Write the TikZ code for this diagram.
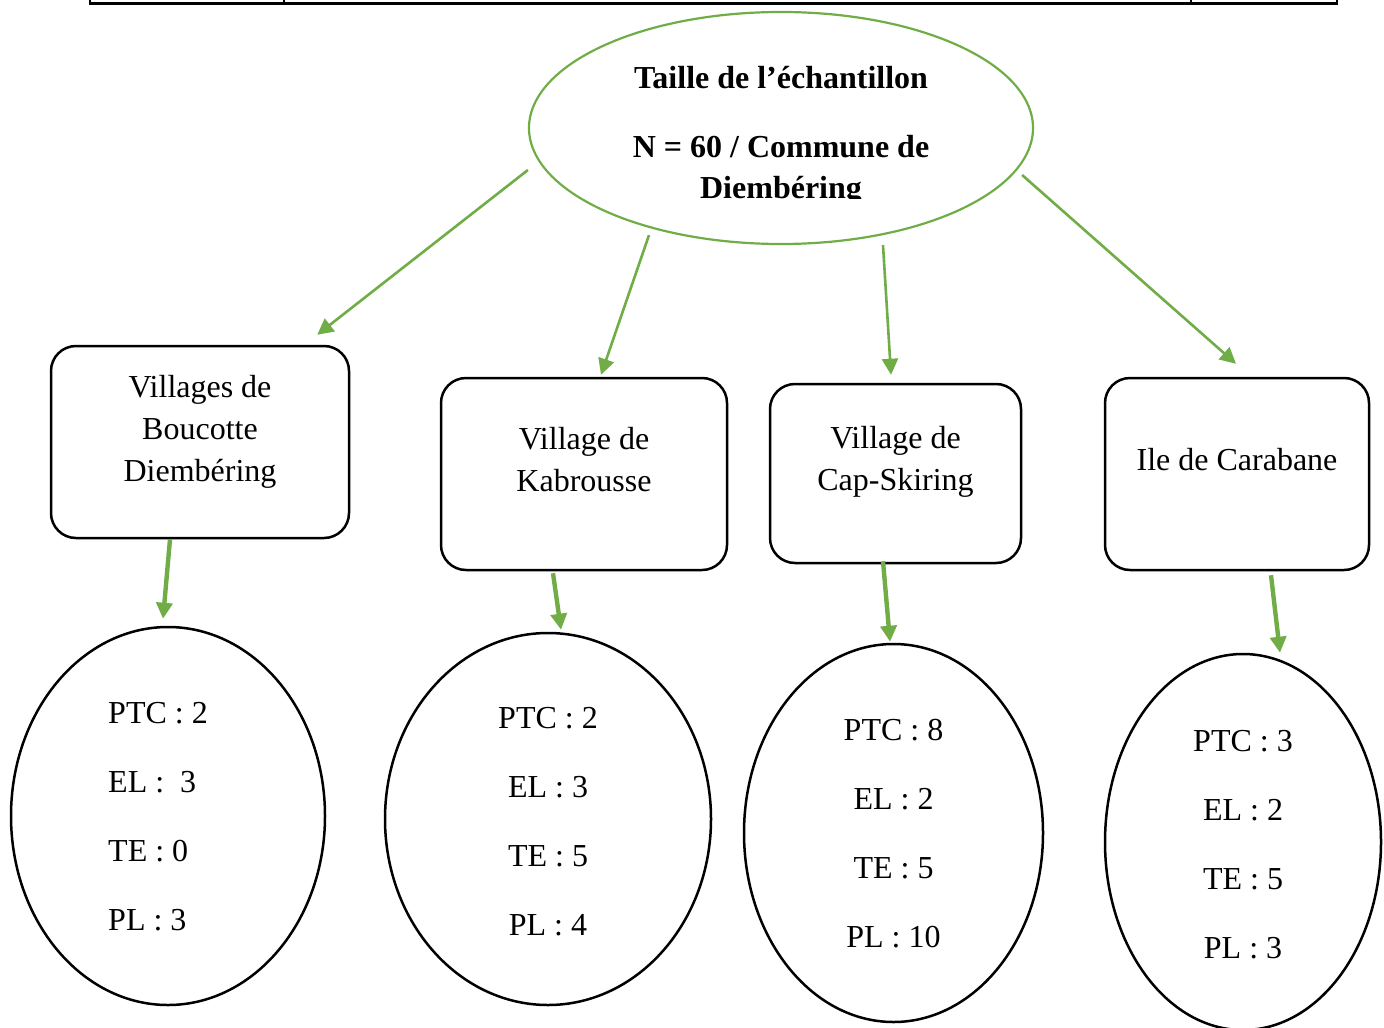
\documentclass[tikz,border=0pt]{standalone}
\usepackage{fontspec}
\setmainfont{Liberation Serif}
\usetikzlibrary{shapes.geometric,arrows.meta,calc}
\definecolor{leafgreen}{RGB}{112,173,71}

\begin{document}
\begin{tikzpicture}[x=0.5pt,y=-0.5pt,
	site/.style={draw,line width=1.25pt,rounded corners=12.5pt,inner sep=0pt},
	tally/.style={draw,ellipse,line width=1.25pt,inner sep=0pt},
	txt/.style={inner sep=0pt,align=center,font=\fontsize{16}{21}\selectfont},
	counts/.style={inner sep=0pt,align=center,font=\fontsize{16}{34.5}\selectfont},
	link/.style={line width=1.3pt,color=leafgreen,-{Triangle[length=8pt,width=8pt]}},
	drop/.style={link,line width=2.2pt}]
		\useasboundingbox (0,0) rectangle (1384,1027);
%		\draw[lightgray] (0,0) grid[step=100] (1384,1027);
		% bottom of the table above
		\draw[line width=1.2pt] (90,0) -- (90,3.5) -- (1337,3.5) -- (1337,0);
		\draw[line width=1.2pt] (284,0) -- (284,3.5) (1191,0) -- (1191,3.5);
		% sample
		\node[draw=leafgreen,line width=1.1pt,ellipse,minimum width=252pt,minimum height=116pt,inner sep=0pt] (sample) at (781,128) {};
		\begin{scope}
			\clip (529,0) rectangle (1033,199);
			\node[txt,font=\fontsize{16}{20.5}\selectfont\bfseries,anchor=north] (sampletxt) at (781,66) {Taille de l’échantillon\\[14pt]N = 60 / Commune de\\Diembéring};
		\end{scope}
		% villages
		\node[site,minimum width=149pt,minimum height=96pt] (boucotte) at (200,442) {};
		\node[site,minimum width=143pt,minimum height=96pt] (kabrousse) at (584,474) {};
		\node[site,minimum width=125.5pt,minimum height=89.5pt] (cap) at (895.5,473.5) {};
		\node[site,minimum width=132pt,minimum height=96pt] (carabane) at (1237,474) {};
		\node[txt] (boucottetxt) at ($(boucotte)+(0,-10.5)$) {Villages de\\Boucotte\\Diembéring};
		\node[txt] (kabroussetxt) at ($(kabrousse)+(0,-14)$) {Village de\\Kabrousse};
		\node[txt] (captxt) at ($(cap)+(0,-11.5)$) {Village de\\Cap-Skiring};
		\node[txt] (carabanetxt) at ($(carabane)+(0,-14)$) {Ile de Carabane};
		% counts
		\node[tally,minimum width=157pt,minimum height=189pt] (boucottenb) at (168,816) {};
		\node[tally,minimum width=163pt,minimum height=186pt] (kabroussenb) at (548,819) {};
		\node[tally,minimum width=149.5pt,minimum height=189pt] (capnb) at (893.5,833) {};
		\node[tally,minimum width=138pt,minimum height=188pt] (carabanenb) at (1243,842) {};
		\node[counts,align=left] (boucottenbtxt) at ($(boucottenb)+(-10,0.5)$) {PTC : 2\\EL :\ \ 3\\TE : 0\\PL : 3};
		\node[counts] (kabroussenbtxt) at ($(kabroussenb)+(0,2.5)$) {PTC : 2\\EL : 3\\TE : 5\\PL : 4};
		\node[counts] (capnbtxt) at ($(capnb)+(0,1)$) {PTC : 8\\EL : 2\\TE : 5\\PL : 10};
		\node[counts] (carabanenbtxt) at ($(carabanenb)+(0,3)$) {PTC : 3\\EL : 2\\TE : 5\\PL : 3};
		% arrows
		\draw[link] ($(sample.west)+(0,42)$) -- ($(boucotte.north east)+(-33,-10)$);
		\draw[link] ($(sample.south)+(-132,-10)$) -- ($(kabrousse.north)+(17,-2)$);
		\draw[link] ($(sample.south)+(102,0)$) -- ($(cap.north)+(-4.5,-8)$);
		\draw[link] ($(sample.east)+(-12,47)$) -- ($(carabane.north)+(-1,-13)$);
		\draw[drop] ($(boucotte.south)+(-30,0)$) -- ($(boucottenb.north)+(-5,-7)$);
		\draw[drop] ($(kabrousse.south)+(-31,2)$) -- ($(kabroussenb.north)+(13,-2)$);
		\draw[drop] ($(cap.south)+(-12.5,-3)$) -- ($(capnb.north)+(-3.5,-1)$);
		\draw[drop] ($(carabane.south)+(34,4)$) -- ($(carabanenb.north)+(37,0)$);
	\end{tikzpicture}
\end{document}
